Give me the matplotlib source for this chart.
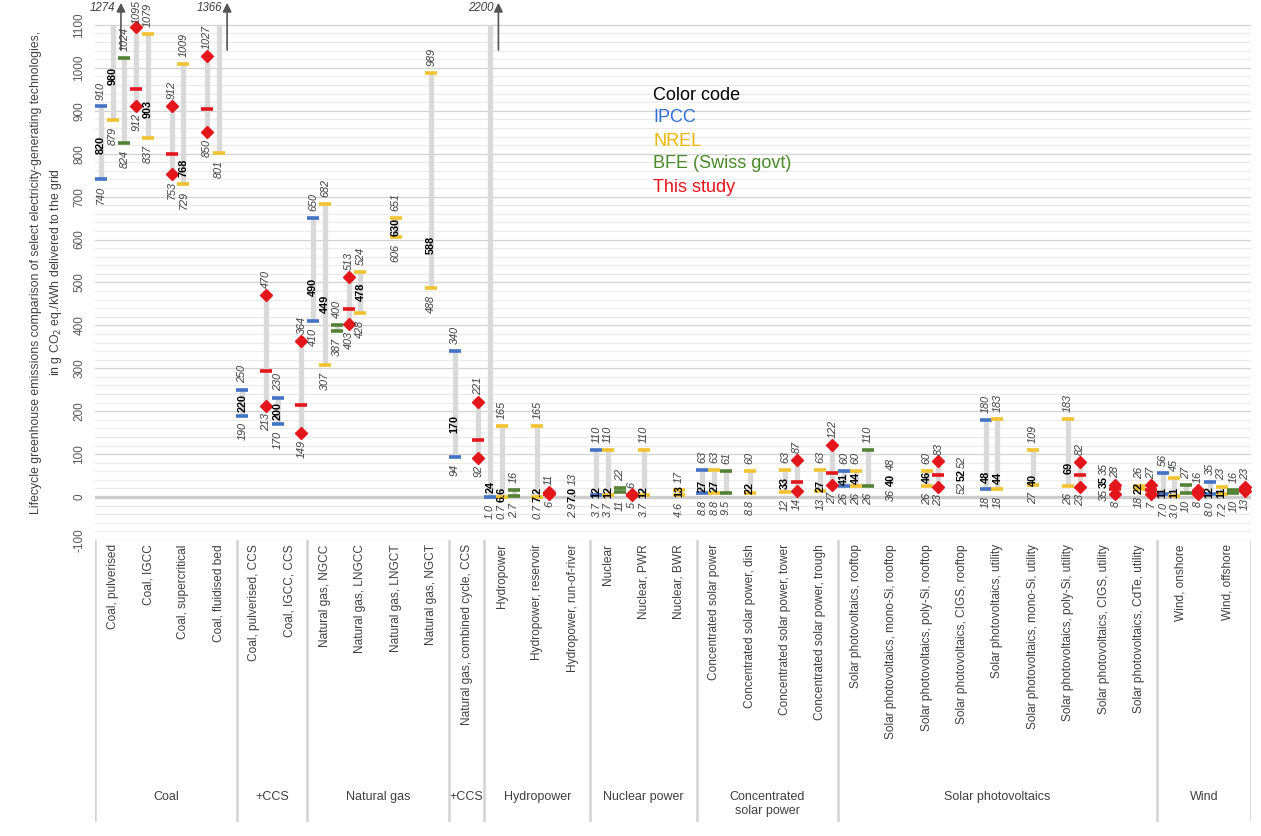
import matplotlib.pyplot as plt
import numpy as np

plt.rcParams['font.family'] = ['Liberation Sans', 'DejaVu Sans']
plt.rcParams['axes.unicode_minus'] = False

# technologies (second-level categories), each with its own number of slots
techs = ["Coal, pulverised", "Coal, IGCC", "Coal, supercritical", "Coal, fluidised bed",
         "Coal, pulverised, CCS", "Coal, IGCC, CCS",
         "Natural gas, NGCC", "Natural gas, LNGCC", "Natural gas, LNGCT", "Natural gas, NGCT",
         "Natural gas, combined cycle, CCS",
         "Hydropower", "Hydropower, reservoir", "Hydropower, run-of-river",
         "Nuclear", "Nuclear, PWR", "Nuclear, BWR",
         "Concentrated solar power", "Concentrated solar power, dish",
         "Concentrated solar power, tower", "Concentrated solar power, trough",
         "Solar photovoltaics, rooftop", "Solar photovoltaics, mono-Si, rooftop",
         "Solar photovoltaics, poly-Si, rooftop", "Solar photovoltaics, CIGS, rooftop",
         "Solar photovoltaics, utility", "Solar photovoltaics, mono-Si, utility",
         "Solar photovoltaics, poly-Si, utility", "Solar photovoltaics, CIGS, utility",
         "Solar photovoltaics, CdTe, utility",
         "Wind, onshore", "Wind, offshore"]
tech_slots = [3] * 30 + [4, 4]

groups = ["Coal", "+CCS", "Natural gas", "+CCS", "Hydropower", "Nuclear power",
          "Concentrated\nsolar power", "Solar photovoltaics", "Wind"]
group_sizes = [4, 2, 4, 1, 3, 3, 4, 9, 2]

# one entry per range: technology index, sub-slot, source, min, max, median/mean
item_tech = [0, 0, 0, 1, 1, 2, 2, 3, 3,
             4, 4, 5, 5,
             6, 6, 6, 7, 7, 8, 9,
             10, 10,
             11, 11, 11, 12, 12, 13,
             14, 14, 14, 15, 15, 16,
             17, 17, 17, 18, 19, 19, 20, 20,
             21, 21, 21, 22, 23, 23, 24, 25, 25, 26, 27, 27, 28, 28, 29, 29,
             30, 30, 30, 30, 31, 31, 31, 31]
item_sub = [0, 1, 2, 0, 1, 0, 1, 0, 1,
            0, 2, 0, 2,
            0, 1, 2, 0, 1, 1, 1,
            0, 2,
            0, 1, 2, 1, 2, 1,
            0, 1, 2, 0, 1, 1,
            0, 1, 2, 1, 1, 2, 1, 2,
            0, 1, 2, 1, 1, 2, 1, 0, 1, 1, 1, 2, 1, 2, 1, 2,
            0, 1, 2, 3, 0, 1, 2, 3]
item_src = ["IPCC", "NREL", "BFE", "Study", "NREL", "Study", "NREL", "Study", "NREL",
            "IPCC", "Study", "IPCC", "Study",
            "IPCC", "NREL", "BFE", "Study", "NREL", "NREL", "NREL",
            "IPCC", "Study",
            "IPCC", "NREL", "BFE", "NREL", "Study", "other",
            "IPCC", "NREL", "BFE", "Study", "NREL", "NREL",
            "IPCC", "NREL", "BFE", "NREL", "NREL", "Study", "NREL", "Study",
            "IPCC", "NREL", "BFE", "other", "NREL", "Study", "other", "IPCC", "NREL",
            "NREL", "NREL", "Study", "other", "Study", "NREL", "Study",
            "IPCC", "NREL", "BFE", "Study", "IPCC", "NREL", "BFE", "Study"]
item_lo = [740, 879, 824, 912, 837, 753, 729, 850, 801,
           190, 213, 170, 149,
           410, 307, 387, 403, 428, 606, 488,
           94, 92,
           1.0, 0.7, 2.7, 0.7, 6, 2.9,
           3.7, 3.7, 11, 5, 3.7, 4.6,
           8.8, 8.8, 9.5, 8.8, 12, 14, 13, 27,
           26, 26, 26, 36, 26, 23, 52, 18, 18, 27, 26, 23, 35, 8, 18, 7,
           7.0, 3.0, 10, 8, 8.0, 7.2, 10, 13]
item_hi = [910, 1274, 1024, 1095, 1079, 912, 1009, 1027, 1366,
           250, 470, 230, 364,
           650, 682, 400, 513, 524, 651, 989,
           340, 221,
           2200, 165, 16, 165, 11, 13,
           110, 110, 22, 6, 110, 17,
           63, 63, 61, 60, 63, 87, 63, 122,
           60, 60, 110, 48, 60, 83, 52, 180, 183, 109, 183, 82, 35, 28, 26, 27,
           56, 45, 27, 16, 35, 23, 16, 23]
item_mid = [820, 980, None, 950, 903, 800, 768, 903, None,
            220, 293, 200, 214,
            490, 449, None, 437, 478, 630, 588,
            170, 133,
            24, 6.6, None, 7.2, 8, 7.0,
            12, 12, None, 5.5, 12, 13,
            27, 27, None, 22, 33, 36, 27, 56,
            41, 44, None, 40, 46, 52, 52, 48, 44, 40, 69, 51, 35, 18, 22, 17,
            11, 11, None, 12, 12, 11, None, 18]

colors = {"IPCC": "#4472c4", "NREL": "#f2c230", "BFE": "#548235", "Study": "#e3161c"}
legend_colors = {"IPCC": "#2f6fd6", "NREL": "#f0b400", "BFE (Swiss govt)": "#4a8a2a",
                 "This study": "#e8121b"}

CLIP = 1100
grey_txt = "#404040"


def fmt(v, src):
    if src == "Study":
        return "%d" % round(v)
    if v < 10:
        return "%.1f" % v
    return "%d" % round(v)


tech_start = np.concatenate([[0], np.cumsum(tech_slots)[:-1]])
nslots = int(np.sum(tech_slots))

fig = plt.figure(figsize=(12.61, 8.36), dpi=100)
left, width = 95 / 1261, 1156 / 1261
ax = fig.add_axes([left, 1 - 540 / 836, width, 540 / 836])
ax.set_xlim(-0.5, nslots - 0.5)
ax.set_ylim(-100, 1158)

ax.set_yticks(np.arange(-100, 1101, 100))
ax.set_yticks(np.arange(-100, 1101, 20), minor=True)
ax.grid(True, which="major", axis="y", color="#d2d2d2", lw=0.9)
ax.grid(True, which="minor", axis="y", color="#ebebeb", lw=0.8)
ax.set_axisbelow(True)
ax.axhline(0, color="#cdcdcd", lw=2.4, zorder=1)
ax.set_xticks([])
for s in ax.spines.values():
    s.set_visible(False)
ax.tick_params(axis="y", which="both", length=0, pad=7, labelsize=8.5,
               labelcolor="#595959")
for lab in ax.get_yticklabels():
    lab.set_rotation(90)
    lab.set_va("center")

for t, sub, src, lo, hi, mid in zip(item_tech, item_sub, item_src, item_lo, item_hi, item_mid):
    x = tech_start[t] + sub
    ax.plot([x, x], [lo, min(hi, CLIP)], color="#d9d9d9", lw=3.8,
            solid_capstyle="butt", zorder=2)
    if src == "Study":
        ax.plot([x, x], [lo, hi], "D", color=colors[src], ms=6.5, zorder=4)
        ax.plot(x, mid, "_", color=colors[src], ms=9, mew=2.6, zorder=4)
    elif src in colors:
        ends = [lo] + ([hi] if hi <= CLIP else [])
        ax.plot([x] * len(ends), ends, "_", color=colors[src], ms=9, mew=2.6, zorder=3)
    ax.annotate(fmt(lo, src), (x, lo), xytext=(0, -5), textcoords="offset points",
                rotation=90, ha="center", va="top", style="italic", fontsize=7.8,
                color=grey_txt, zorder=5)
    if hi <= CLIP:
        off = 5 if hi < 1080 else 2
        ax.annotate(fmt(hi, src), (x, hi), xytext=(0, off), textcoords="offset points",
                    rotation=90, ha="center", va="bottom", style="italic", fontsize=7.8,
                    color=grey_txt, zorder=5)
    else:
        xa = x + 0.7
        ax.annotate("", xy=(xa, 1158), xytext=(xa, 1035),
                    arrowprops=dict(arrowstyle="-|>", color="#555555", lw=1.2,
                                    mutation_scale=13), annotation_clip=False)
        ax.text(xa - 0.45, 1140, "%d" % hi, ha="right", va="center", style="italic",
                fontsize=8.3, color=grey_txt)
    if mid is not None and src != "Study":
        ax.text(x, mid, fmt(mid, src), rotation=90, ha="center", va="center",
                weight="bold", fontsize=7.8, color="black", zorder=6)

fig.text(47 / 1261, 1 - 272 / 836,
         "Lifecycle greenhouse emissions comparison of select electricity-generating technologies,\n"
         "in g CO$_2$ eq./kWh delivered to the grid",
         rotation=90, ha="center", va="center", multialignment="center",
         fontsize=8.8, color=grey_txt, linespacing=1.5)

# colour code box
fig.text(653 / 1261, 1 - 95 / 836, "Color code", ha="left", va="center",
         fontsize=13, color="black")
for i, (name, c) in enumerate(legend_colors.items()):
    fig.text(653 / 1261, 1 - (118 + 23 * i) / 836, name, ha="left", va="center",
             fontsize=13, color=c)

# category axis
cax = fig.add_axes([left, 1 - 822 / 836, width, 282 / 836])
cax.set_xlim(-0.5, nslots - 0.5)
cax.set_ylim(0, 1)
cax.axis("off")
for t, name in enumerate(techs):
    xc = tech_start[t] + (tech_slots[t] - 1) / 2
    cax.text(xc, 0.985, name, rotation=90, ha="center", va="top", fontsize=8.6,
             color=grey_txt)
g0 = 0
bounds = [-0.5]
for g, size in zip(groups, group_sizes):
    s0 = tech_start[g0]
    s1 = tech_start[g0 + size - 1] + tech_slots[g0 + size - 1]
    cax.text((s0 + s1 - 1) / 2, 0.11, g, ha="center", va="top", fontsize=9,
             color=grey_txt, linespacing=1.25)
    bounds.append(s1 - 0.5)
    g0 += size
for b in bounds:
    cax.axvline(b, color="#d3d3d3", lw=1.8)

fig.savefig("out.png", dpi=100)
